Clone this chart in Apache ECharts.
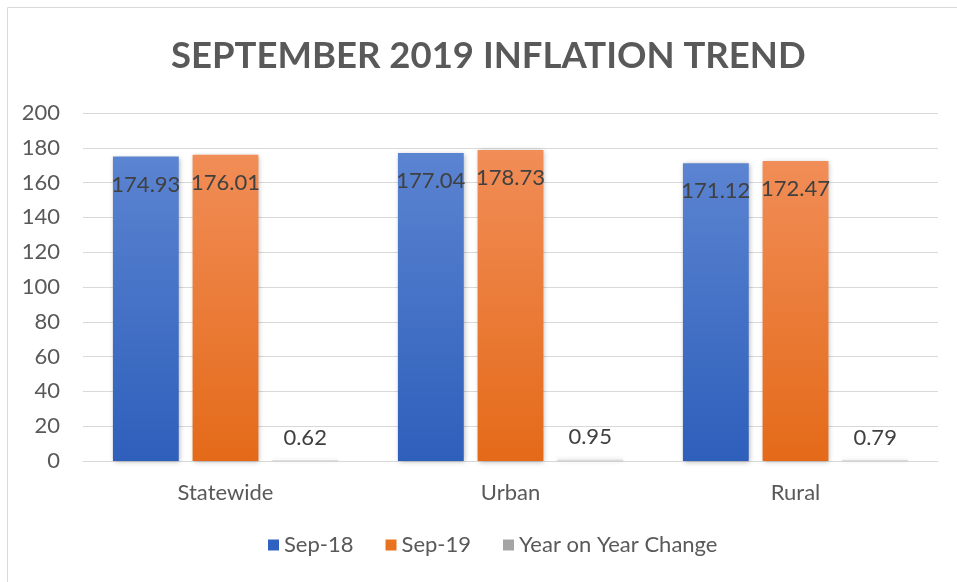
<!DOCTYPE html>
<html><head><meta charset="utf-8">
<script src="https://cdn.jsdelivr.net/npm/echarts@6/dist/echarts.min.js"></script>
<style>html,body{margin:0;padding:0;background:#fff}#c{width:957px;height:582px}</style>
</head><body><div id="c"></div>
<script>
const categories = ['Statewide', 'Urban', 'Rural'];
const sep18 = [174.93, 177.04, 171.12];
const sep19 = [176.01, 178.73, 172.47];
const yoyChange = [0.62, 0.95, 0.79];
const seriesNames = ['Sep-18', 'Sep-19', 'Year on Year Change'];
const titleText = 'SEPTEMBER 2019 INFLATION TREND';

const FONT = 'Lato, "Open Sans", sans-serif';
function grad(top, bottom) {
  return new echarts.graphic.LinearGradient(0, 0, 0, 1, [{offset: 0, color: top}, {offset: 1, color: bottom}]);
}
const labelMain = {show: true, position: 'insideTop', distance: 17, color: '#404040', fontSize: 22, fontFamily: FONT};
const chart = echarts.init(document.getElementById('c'));
chart.setOption({
  animation: false,
  title: {text: titleText, left: 166, top: 33, textStyle: {fontFamily: FONT, fontSize: 36.5, fontWeight: 'bold', color: '#595959'}},
  graphic: [{type: 'rect', shape: {x: 7.5, y: 7.5, width: 1000, height: 1000}, style: {fill: 'none', stroke: '#d9d9d9', lineWidth: 1}, silent: true, z: -1}],
  legend: {bottom: 21, left: 263, itemWidth: 11, itemHeight: 11, itemGap: 32, icon: 'rect',
    textStyle: {fontFamily: FONT, fontSize: 22, color: '#595959'},
    data: [
      {name: seriesNames[0], itemStyle: {color: '#2f62c0'}},
      {name: seriesNames[1], itemStyle: {color: '#e8721f'}},
      {name: seriesNames[2], itemStyle: {color: '#a5a5a5'}}]},
  grid: {left: 83, right: 19, top: 113, bottom: 121},
  xAxis: {type: 'category', data: categories,
    axisLine: {lineStyle: {color: '#d9d9d9', width: 1}}, axisTick: {show: false},
    axisLabel: {fontFamily: FONT, fontSize: 22, color: '#595959', margin: 21}},
  yAxis: {type: 'value', min: 0, max: 200, interval: 20,
    axisLine: {show: false}, axisTick: {show: false},
    splitLine: {lineStyle: {color: '#d9d9d9', width: 1}},
    axisLabel: {fontFamily: FONT, fontSize: 22, color: '#595959', margin: 23}},
  series: [
    {name: seriesNames[0], type: 'bar', data: sep18, barGap: '21%', barCategoryGap: '21%',
     itemStyle: {color: grad('#5b84d1', '#2e5fbb'), shadowColor: 'rgba(0,0,0,0.3)', shadowBlur: 5, shadowOffsetX: 1, shadowOffsetY: 1},
     label: labelMain},
    {name: seriesNames[1], type: 'bar', data: sep19,
     itemStyle: {color: grad('#f18d57', '#e46a19'), shadowColor: 'rgba(0,0,0,0.3)', shadowBlur: 5, shadowOffsetX: 1, shadowOffsetY: 1},
     label: labelMain},
    {name: seriesNames[2], type: 'bar', data: yoyChange,
     itemStyle: {color: grad('#eeeeee', '#d0d0d0'), shadowColor: 'rgba(0,0,0,0.15)', shadowBlur: 4},
     label: {show: true, position: 'top', distance: 11, color: '#404040', fontSize: 22, fontFamily: FONT}}
  ]
});
</script></body></html>
